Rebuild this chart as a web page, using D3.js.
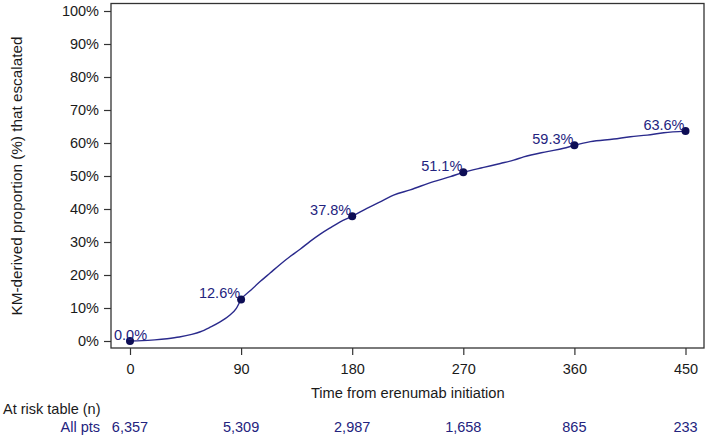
<!DOCTYPE html>
<html>
<head>
<meta charset="utf-8">
<script src="https://cdn.jsdelivr.net/npm/d3@7/dist/d3.min.js"></script>
<style>
  html, body { margin: 0; padding: 0; background: #fff; }
  svg { display: block; font-family: "Liberation Sans", Arial, sans-serif; }
</style>
</head>
<body>
<svg id="chart" width="709" height="438"></svg>
<script>
// ---- data ----
const curveDays = [0, 10, 20, 30, 40, 50, 57, 65, 73, 81, 86, 90, 97.3, 105.4, 113.5, 121.6, 129.7, 137.8, 145.9, 154.1, 162.2, 170.3, 180, 191.9, 205.4, 213.5, 227, 245.9, 259.5, 270, 286.5, 300, 310.8, 318.9, 337.9, 351.3, 360, 373, 391.9, 405.4, 418.9, 432.4, 450];
const curvePct  = [0, 0.1, 0.35, 0.7, 1.2, 2.0, 2.8, 4.2, 5.8, 7.9, 9.8, 12.6, 15.2, 18.0, 20.6, 23.2, 25.6, 27.8, 30.2, 32.4, 34.3, 36.1, 37.8, 40.2, 42.7, 44.2, 45.8, 48.3, 49.8, 51.1, 52.6, 53.8, 54.8, 55.8, 57.4, 58.4, 59.3, 60.4, 61.2, 61.9, 62.4, 63.1, 63.6];
const markerDays = [0, 90, 180, 270, 360, 450];
const markerPct  = [0.0, 12.6, 37.8, 51.1, 59.3, 63.6];
const xTicks = [0, 90, 180, 270, 360, 450];
const yTicks = [0, 10, 20, 30, 40, 50, 60, 70, 80, 90, 100];
const atRisk = ["6,357", "5,309", "2,987", "1,658", "865", "233"];
const yTitle = "KM-derived proportion (%) that escalated";
const xTitle = "Time from erenumab initiation";
const riskTitle = "At risk table (n)";
const riskRow = "All pts";

// ---- layout ----
const svg = d3.select("#chart");
const box = { left: 111, right: 704, top: 3.5, bottom: 348 };
const x = d3.scaleLinear().domain([0, 450]).range([130, 685.5]);
const y = d3.scaleLinear().domain([0, 100]).range([341, 11]);
const navy = "#23237e";
const fs = 14.5;

// y axis
const yAxis = svg.append("g")
  .attr("transform", `translate(${box.left},0)`)
  .call(d3.axisLeft(y).tickValues(yTicks).tickFormat(d => d + "%").tickSize(7).tickPadding(5));
// x axis
const xAxis = svg.append("g")
  .attr("transform", `translate(0,${box.bottom})`)
  .call(d3.axisBottom(x).tickValues(xTicks).tickFormat(d => d).tickSize(7).tickPadding(9));
[yAxis, xAxis].forEach(g => {
  g.select(".domain").remove();
  g.selectAll(".tick line").attr("stroke", "#333").attr("stroke-width", 1.2);
  g.selectAll(".tick text").attr("font-size", fs).attr("fill", "#1a1a1a")
    .attr("font-family", "Liberation Sans, Arial, sans-serif");
});

// box
svg.append("rect")
  .attr("x", box.left).attr("y", box.top)
  .attr("width", box.right - box.left).attr("height", box.bottom - box.top)
  .attr("fill", "none").attr("stroke", "#333").attr("stroke-width", 1.3);

// curve
const pts = curveDays.map((d, i) => [d, curvePct[i]]);
svg.append("path")
  .datum(pts)
  .attr("fill", "none").attr("stroke", "#2a2a8c").attr("stroke-width", 1.4)
  .attr("stroke-linejoin", "round")
  .attr("d", d3.line().x(d => x(d[0])).y(d => y(d[1])).curve(d3.curveMonotoneX));

// markers
const mk = markerDays.map((d, i) => ({ d, p: markerPct[i] }));
svg.selectAll("circle.m").data(mk).enter().append("circle")
  .attr("class", "m")
  .attr("cx", d => x(d.d)).attr("cy", d => y(d.p)).attr("r", 4)
  .attr("fill", "#0d0d55");

// marker labels
svg.selectAll("text.ml").data(mk).enter().append("text")
  .attr("class", "ml")
  .attr("font-size", fs).attr("fill", navy)
  .text(d => d.p.toFixed(1) + "%")
  .each(function(d) {
    const w = this.getComputedTextLength();
    let tx = x(d.d) - 1 - w;
    if (tx < box.left + 3) tx = box.left + 3;
    d3.select(this).attr("x", tx).attr("y", y(d.p) - 1);
  });

// titles
svg.append("text")
  .attr("transform", `translate(22,${(y(0) + y(100)) / 2}) rotate(-90)`)
  .attr("text-anchor", "middle").attr("font-size", 15.3).attr("fill", "#1a1a1a")
  .text(yTitle);
svg.append("text")
  .attr("x", (x(0) + x(450)) / 2).attr("y", 398)
  .attr("text-anchor", "middle").attr("font-size", 14.7).attr("fill", "#1a1a1a")
  .text(xTitle);

// at risk table
svg.append("text")
  .attr("x", 3).attr("y", 414).attr("font-size", fs).attr("fill", "#1a1a1a")
  .text(riskTitle);
svg.append("text")
  .attr("x", 100).attr("y", 432).attr("text-anchor", "end")
  .attr("font-size", fs).attr("fill", navy)
  .text(riskRow);
svg.selectAll("text.risk").data(atRisk).enter().append("text")
  .attr("class", "risk")
  .attr("x", (d, i) => x(xTicks[i])).attr("y", 432)
  .attr("text-anchor", "middle").attr("font-size", fs).attr("fill", navy)
  .text(d => d);
</script>
</body>
</html>
